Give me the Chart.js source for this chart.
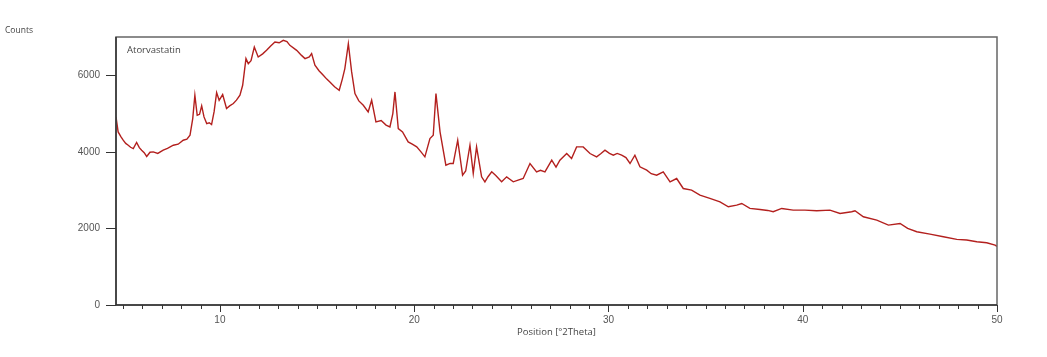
<!DOCTYPE html>
<html>
<head>
<meta charset="utf-8">
<script src="https://cdn.jsdelivr.net/npm/chart.js@4/dist/chart.umd.min.js"></script>
<style>
  html, body { margin: 0; padding: 0; background: #fff; }
  canvas { display: block; }
</style>
</head>
<body>
<canvas id="c" width="1047" height="357"></canvas>
<script>
// ---- data ----
const twoTheta = [4.65, 4.76, 4.9, 5.02, 5.15, 5.28, 5.4, 5.54, 5.71, 5.85, 5.97, 6.1, 6.23, 6.4, 6.57, 6.8, 7.08, 7.3, 7.6, 7.85, 8.11, 8.3, 8.46, 8.6, 8.71, 8.83, 8.95, 9.06, 9.18, 9.32, 9.45, 9.57, 9.7, 9.83, 9.96, 10.14, 10.34, 10.5, 10.69, 10.85, 11.03, 11.17, 11.34, 11.46, 11.6, 11.77, 11.97, 12.2, 12.4, 12.6, 12.83, 13.05, 13.26, 13.45, 13.6, 13.95, 14.2, 14.38, 14.6, 14.72, 14.89, 15.1, 15.32, 15.5, 15.66, 15.9, 16.14, 16.3, 16.43, 16.61, 16.78, 16.95, 17.15, 17.38, 17.63, 17.81, 18.03, 18.3, 18.55, 18.75, 18.9, 19.01, 19.18, 19.4, 19.69, 19.9, 20.13, 20.35, 20.55, 20.81, 20.98, 21.12, 21.33, 21.63, 21.85, 22.01, 22.24, 22.49, 22.65, 22.87, 23.04, 23.21, 23.47, 23.64, 23.8, 23.99, 24.2, 24.5, 24.76, 25.1, 25.35, 25.61, 25.96, 26.3, 26.5, 26.73, 27.08, 27.3, 27.5, 27.85, 28.1, 28.36, 28.7, 29.05, 29.39, 29.6, 29.82, 30.05, 30.25, 30.45, 30.68, 30.9, 31.11, 31.36, 31.62, 31.97, 32.2, 32.48, 32.82, 33.17, 33.51, 33.85, 34.28, 34.71, 35.22, 35.74, 36.17, 36.6, 36.86, 37.28, 37.8, 38.2, 38.48, 38.92, 39.51, 40.11, 40.72, 41.4, 41.92, 42.52, 42.69, 43.12, 43.81, 44.41, 45.01, 45.4, 45.87, 46.55, 47.24, 47.93, 48.44, 48.96, 49.47, 49.9, 50.0];
const counts = [4912, 4521, 4400, 4304, 4220, 4174, 4120, 4087, 4244, 4110, 4043, 3980, 3880, 3990, 4000, 3960, 4043, 4090, 4174, 4200, 4304, 4330, 4435, 4870, 5478, 4957, 4980, 5200, 4913, 4739, 4760, 4713, 5050, 5548, 5348, 5496, 5131, 5200, 5261, 5350, 5478, 5739, 6435, 6304, 6380, 6739, 6478, 6560, 6652, 6760, 6869, 6850, 6913, 6880, 6783, 6652, 6520, 6435, 6480, 6565, 6261, 6120, 6000, 5900, 5826, 5700, 5609, 5900, 6174, 6826, 6087, 5522, 5330, 5217, 5043, 5348, 4783, 4820, 4700, 4652, 5000, 5565, 4609, 4520, 4261, 4200, 4130, 4000, 3870, 4348, 4435, 5522, 4522, 3652, 3700, 3696, 4304, 3391, 3500, 4174, 3435, 4130, 3348, 3217, 3350, 3478, 3380, 3217, 3348, 3217, 3260, 3304, 3696, 3478, 3520, 3478, 3783, 3600, 3783, 3957, 3826, 4130, 4130, 3957, 3870, 3950, 4043, 3960, 3913, 3960, 3913, 3850, 3696, 3913, 3609, 3522, 3430, 3391, 3478, 3217, 3304, 3043, 3000, 2870, 2783, 2696, 2565, 2609, 2652, 2522, 2496, 2470, 2435, 2522, 2478, 2478, 2461, 2478, 2391, 2435, 2461, 2304, 2217, 2087, 2130, 2000, 1913, 1852, 1783, 1713, 1696, 1652, 1626, 1565, 1530];
const xMajorTicks = [10, 20, 30, 40, 50];
const yTicks = [0, 2000, 4000, 6000];

const points = twoTheta.map((x, i) => ({ x: x, y: counts[i] }));

const decor = {
  id: 'decor',
  afterDraw(chart) {
    const ctx = chart.ctx;
    const a = chart.chartArea;
    const xs = chart.scales.x, ys = chart.scales.y;
    ctx.save();
    // frame
    ctx.strokeStyle = '#666';
    ctx.lineWidth = 1.5;
    ctx.strokeRect(a.left, a.top, a.right - a.left, a.bottom - a.top);
    ctx.strokeStyle = '#333';
    ctx.beginPath();
    ctx.moveTo(a.left, a.top); ctx.lineTo(a.left, a.bottom); ctx.lineTo(a.right, a.bottom);
    ctx.stroke();
    // x ticks (minor every 1, major every 10)
    ctx.lineWidth = 1;
    ctx.strokeStyle = '#333';
    for (let v = Math.ceil(xs.min); v <= xs.max; v++) {
      const px = Math.round(xs.getPixelForValue(v)) + 0.5;
      const len = (v % 10 === 0) ? 7 : 4;
      ctx.beginPath();
      ctx.moveTo(px, a.bottom);
      ctx.lineTo(px, a.bottom + len);
      ctx.stroke();
    }
    // y ticks
    yTicks.forEach(v => {
      const py = Math.round(ys.getPixelForValue(v)) + 0.5;
      ctx.beginPath();
      ctx.moveTo(a.left - 10, py);
      ctx.lineTo(a.left, py);
      ctx.stroke();
    });
    // texts
    ctx.fillStyle = '#444';
    ctx.font = '8.5px "Open Sans", Arial, sans-serif';
    ctx.textBaseline = 'middle';
    ctx.textAlign = 'left';
    ctx.fillText('Counts', 5, 31);
    ctx.font = '9.5px "Open Sans", Arial, sans-serif';
    ctx.fillText('Atorvastatin', a.left + 11, a.top + 13);
    ctx.restore();
  }
};

new Chart(document.getElementById('c'), {
  type: 'line',
  data: {
    datasets: [{
      data: points,
      borderColor: '#b3201e',
      borderWidth: 1.4,
      pointRadius: 0,
      tension: 0,
      fill: false
    }]
  },
  options: {
    responsive: false,
    animation: false,
    devicePixelRatio: 1,
    layout: { padding: { top: 37, right: 50, left: 0, bottom: 0 } },
    plugins: { legend: { display: false }, tooltip: { enabled: false } },
    scales: {
      x: {
        type: 'linear',
        min: 4.65,
        max: 50,
        bounds: 'data',
        afterFit: s => { s.height = 52; },
        afterBuildTicks: s => { s.ticks = xMajorTicks.map(v => ({ value: v })); },
        grid: { display: false, drawTicks: false },
        border: { display: false },
        ticks: {
          autoSkip: false,
          maxRotation: 0,
          padding: 9,
          color: '#555',
          font: { size: 10, family: 'Arial, "Liberation Sans", sans-serif' },
          callback: v => String(v)
        },
        title: {
          display: true,
          text: 'Position [°2Theta]',
          color: '#444',
          font: { size: 9.5, family: '"Open Sans", Arial, sans-serif' },
          padding: { top: 0, bottom: 19 }
        }
      },
      y: {
        type: 'linear',
        min: 0,
        max: 7000,
        bounds: 'data',
        afterFit: s => { s.width = 116; },
        afterBuildTicks: s => { s.ticks = yTicks.map(v => ({ value: v })); },
        grid: { display: false, drawTicks: false },
        border: { display: false },
        ticks: {
          autoSkip: false,
          padding: 16,
          color: '#555',
          font: { size: 10, family: 'Arial, "Liberation Sans", sans-serif' },
          callback: v => String(v)
        }
      }
    }
  },
  plugins: [decor]
});
</script>
</body>
</html>
